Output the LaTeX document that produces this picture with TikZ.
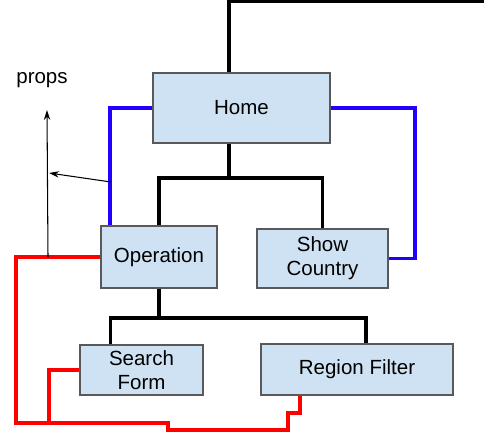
\documentclass[tikz,border=0pt]{standalone}
\usepackage{fontspec}
\setmainfont{Liberation Sans}
\usetikzlibrary{arrows.meta,calc}
\definecolor{BoxFill}{HTML}{CFE2F3}
\definecolor{BoxEdge}{HTML}{595959}
\definecolor{LinkBlue}{HTML}{2200FF}
\definecolor{LinkRed}{HTML}{FF0000}

\begin{document}
\begin{tikzpicture}[x=0.03cm,y=-0.03cm, every node/.style={font=\fontsize{17.5}{20.5}\selectfont}]
  \tikzset{
    comp/.style={draw=BoxEdge, line width=1.3pt, fill=BoxFill, align=center, inner sep=0pt},
    tree/.style={line width=3.2pt, black},
    propline/.style={line width=3.2pt, LinkBlue},
    stateline/.style={line width=3.2pt, LinkRed},
    hint/.style={line width=0.9pt, -{Stealth[length=8.5pt,width=5.5pt]}}
  }
  \fill[white] (0,0) rectangle (484,439);
  \useasboundingbox (0,0) rectangle (484,439);
  % components
  \node[comp, minimum width=177*0.03cm, minimum height=70*0.03cm] (home) at (241.5,108) {Home};
  \node[comp, minimum width=116*0.03cm, minimum height=62*0.03cm] (operation) at (159,257) {Operation};
  \node[comp, minimum width=131*0.03cm, minimum height=59*0.03cm] (show) at (322.5,258.5) {Show\\Country};
  \node[comp, minimum width=123*0.03cm, minimum height=50*0.03cm] (search) at (141.5,370) {Search\\Form};
  \node[comp, minimum width=192*0.03cm, minimum height=51*0.03cm] (region) at (357,369.5) {Region Filter};
  \node (props) at (42,80) {props};
  % tree of components
  \coordinate (root) at (229,1.5);
  \coordinate (rootend) at (484,1.5);
  \coordinate (hsplit) at (229,178);
  \coordinate (osplit) at (159,318);
  \draw[tree] (home.north -| root) -- (root) -- (rootend);
  \draw[tree] (home.south -| hsplit) -- (hsplit);
  \draw[tree] (operation.north) |- (hsplit) -| (show.north);
  \draw[tree] (operation.south) -- (osplit);
  \draw[tree] ($(search.north)+(-31,0)$) |- (osplit) -| ($(region.north)+(9,0)$);
  % props from home
  \coordinate (bright) at (415,108);
  \draw[propline] (home.west) -| ($(operation.north west)+(10,0)$);
  \draw[propline] (home.east) -- (bright) |- (show.east);
  % state back up
  \coordinate (rleft) at (16,423);
  \coordinate (rstep) at (168,423);
  \coordinate (rlow) at (288,430);
  \coordinate (rup) at (288,413);
  \draw[stateline] (operation.west) -| (rleft) -- (rstep) |- (rlow) -- (rup) -| ($(region.south)+(-57,0)$);
  \draw[stateline] (search.west) -| (49,423);
  % hints
  \coordinate (propsfoot) at (48,257);
  \coordinate (propstip) at (47,110);
  \coordinate (sidefoot) at (111,182);
  \coordinate (sidetip) at (49,173);
  \draw[hint] (propsfoot) -- (propstip);
  \draw[hint] (sidefoot) -- (sidetip);
\end{tikzpicture}
\end{document}
